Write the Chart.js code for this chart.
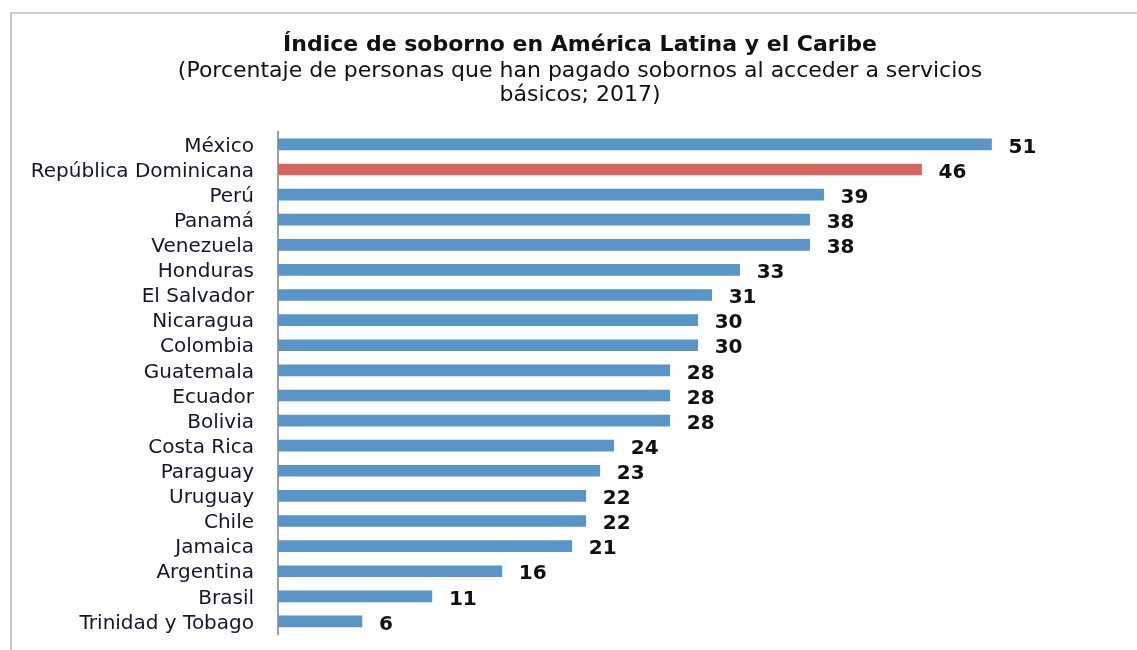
<!DOCTYPE html>
<html>
<head>
<meta charset="utf-8">
<script src="https://cdn.jsdelivr.net/npm/chart.js@4.4.0/dist/chart.umd.min.js"></script>
<style>
  html, body { margin: 0; padding: 0; background: #fff; }
  #wrap { position: relative; width: 1137px; height: 650px; }
  #frame { position: absolute; left: 10px; top: 12px; right: 0; bottom: 0;
           border-left: 2px solid #c8c8c8; border-top: 2px solid #d0d0d0; pointer-events: none; }
  canvas { position: absolute; left: 0; top: 0; }
</style>
</head>
<body>
<div id="wrap">
  <canvas id="c" width="1137" height="650"></canvas>
  <div id="frame"></div>
</div>
<script>
const categories = ["México","República Dominicana","Perú","Panamá","Venezuela","Honduras","El Salvador","Nicaragua","Colombia","Guatemala","Ecuador","Bolivia","Costa Rica","Paraguay","Uruguay","Chile","Jamaica","Argentina","Brasil","Trinidad y Tobago"];
const values = [51,46,39,38,38,33,31,30,30,28,28,28,24,23,22,22,21,16,11,6];
const highlight = "República Dominicana";
const titleText = "Índice de soborno en América Latina y el Caribe";
const subtitleLines = ["(Porcentaje de personas que han pagado sobornos al acceder a servicios", "básicos; 2017)"];

const FONT = "'DejaVu Sans', sans-serif";
const BLUE = "#5A95C8", RED = "#D5655F";

const valueLabels = {
  id: 'valueLabels',
  afterDatasetsDraw(chart) {
    const ctx = chart.ctx;
    const meta = chart.getDatasetMeta(0);
    ctx.save();
    ctx.font = "bold 20px " + FONT;
    ctx.fillStyle = "#111";
    ctx.textAlign = "left";
    ctx.textBaseline = "middle";
    meta.data.forEach((bar, i) => {
      ctx.fillText(String(values[i]), bar.x + 17, bar.y + 3);
    });
    ctx.restore();
  }
};

new Chart(document.getElementById('c'), {
  type: 'bar',
  data: {
    labels: categories,
    datasets: [{
      data: values,
      backgroundColor: categories.map(c => c === highlight ? RED : BLUE),
      barThickness: 11,
      borderWidth: 0
    }]
  },
  options: {
    indexAxis: 'y',
    responsive: false,
    animation: false,
    layout: { padding: { left: 23, right: 0, top: 0, bottom: 16 } },
    plugins: {
      legend: { display: false },
      tooltip: { enabled: false },
      title: {
        display: true, text: titleText, color: "#111",
        font: { family: FONT, size: 22, weight: 'bold', lineHeight: 1.2 },
        padding: { top: 32, bottom: 1 }
      },
      subtitle: {
        display: true, text: subtitleLines, color: "#111",
        font: { family: FONT, size: 22, lineHeight: 1.1 },
        padding: { top: 0, bottom: 24 }
      }
    },
    scales: {
      x: { display: false, min: 0, max: 61.4 },
      y: {
        afterFit(s) { s.width = 255; },
        grid: { display: false, drawTicks: true, tickLength: 24 },
        border: { display: true, color: "#a0a0a0", width: 2 },
        ticks: { color: "#16162a", padding: 0, labelOffset: 2, autoSkip: false, font: { family: FONT, size: 20 } }
      }
    }
  },
  plugins: [valueLabels]
});
</script>
</body>
</html>
